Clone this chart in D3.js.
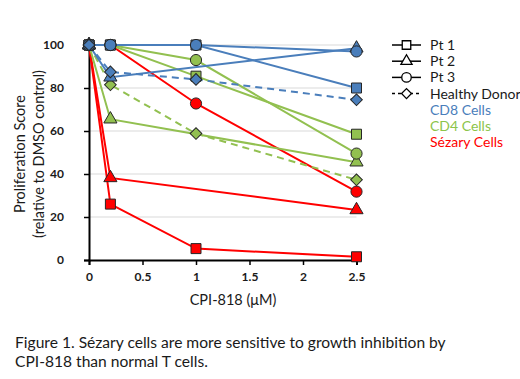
<!DOCTYPE html>
<html>
<head>
<meta charset="utf-8">
<script src="https://cdn.jsdelivr.net/npm/d3@7"></script>
<style>
  body { margin: 0; background: #fff; }
  svg { display: block; font-family: Lato, "Open Sans", sans-serif; }
</style>
</head>
<body>
<div id="chart"></div>
<script>
// doses in uM
const doses = [0, 0.2, 1, 2.5];

// CD8 cells
const cd8Pt1 = [100, 100, 100, 80];
const cd8Pt2 = [100, 85, null, 98.5];
const cd8Pt3 = [100, 100, 100, 97];
const cd8HD = [100, 87.5, 84, 74.5];

// CD4 cells
const cd4Pt1 = [100, 100, 85.5, 58.5];
const cd4Pt2 = [100, 65.5, null, 45.5];
const cd4Pt3 = [100, 100, 93, 49.5];
const cd4HD = [100, 81.5, 58.8, 37.3];

// Sezary cells
const sezPt1 = [100, 26, 5.3, 1.5];
const sezPt2 = [100, 38.2, null, 23.3];
const sezPt3 = [100, 100, 72.8, 31.8];

const yTicks = [0, 20, 40, 60, 80, 100];
const xTicks = [0, 0.5, 1, 1.5, 2, 2.5];

const patients = ["Pt 1", "Pt 2", "Pt 3", "Healthy Donor"];
const cellTypes = ["CD8 Cells", "CD4 Cells", "Sézary Cells"];

const colors = { "CD8 Cells": "#4a7ebb", "CD4 Cells": "#92c050", "Sézary Cells": "#ff0000" };
const shapes = { "Pt 1": "square", "Pt 2": "triangle", "Pt 3": "circle", "Healthy Donor": "diamond" };

// draw order: red underneath, blue on top
const series = [
    { cell: "Sézary Cells", pt: "Pt 1", values: sezPt1 },
    { cell: "Sézary Cells", pt: "Pt 2", values: sezPt2 },
    { cell: "Sézary Cells", pt: "Pt 3", values: sezPt3 },
    { cell: "CD4 Cells", pt: "Pt 1", values: cd4Pt1 },
    { cell: "CD4 Cells", pt: "Pt 2", values: cd4Pt2 },
    { cell: "CD4 Cells", pt: "Pt 3", values: cd4Pt3 },
    { cell: "CD4 Cells", pt: "Healthy Donor", values: cd4HD },
    { cell: "CD8 Cells", pt: "Pt 1", values: cd8Pt1 },
    { cell: "CD8 Cells", pt: "Pt 2", values: cd8Pt2 },
    { cell: "CD8 Cells", pt: "Pt 3", values: cd8Pt3 },
    { cell: "CD8 Cells", pt: "Healthy Donor", values: cd8HD }
];

const width = 520, height = 379;
const svg = d3.select("#chart").append("svg")
    .attr("width", width)
    .attr("height", height);

const x = d3.scaleLinear().domain([0, 2.5]).range([89, 356.5]);
const y = d3.scaleLinear().domain([0, 100]).range([260, 45]);

// gridlines
svg.append("g")
    .selectAll("line")
    .data(yTicks.filter(d => d > 0))
    .join("line")
    .attr("x1", x(0)).attr("x2", x(2.5))
    .attr("y1", d => y(d)).attr("y2", d => y(d))
    .attr("stroke", "#d9d9d9")
    .attr("stroke-width", 1);

// axes
const yAxis = svg.append("g")
    .attr("transform", `translate(${x(0)},0)`)
    .call(d3.axisLeft(y).tickValues(yTicks).tickSize(5).tickPadding(20));
const xAxis = svg.append("g")
    .attr("transform", `translate(0,${y(0)})`)
    .call(d3.axisBottom(x).tickValues(xTicks).tickSize(5).tickPadding(7)
        .tickFormat(d => d3.format("")(d)));

[xAxis, yAxis].forEach(a => {
    a.select(".domain").attr("stroke", "#000").attr("stroke-width", 2);
    a.selectAll(".tick line").attr("stroke", "#000").attr("stroke-width", 1.5);
    a.selectAll(".tick text")
        .attr("fill", "#1a1a1a")
        .attr("font-size", 12)
        .attr("font-weight", "bold")
        .attr("font-family", "Lato, sans-serif");
});

// axis titles
svg.append("text")
    .attr("x", 233).attr("y", 305)
    .attr("text-anchor", "middle")
    .attr("font-size", 14.5)
    .attr("fill", "#1a1a1a")
    .text("CPI-818 (\u03bcM)");

const yTitle = svg.append("text")
    .attr("transform", "translate(0,154) rotate(-90)")
    .attr("text-anchor", "middle")
    .attr("font-size", 14.5)
    .attr("fill", "#1a1a1a");
yTitle.append("tspan").attr("x", 0).attr("y", 25).text("Proliferation Score");
yTitle.append("tspan").attr("x", 0).attr("y", 44).text("(relative to DMSO control)");

// marker paths
function markerPath(shape, scale) {
    const s = scale || 1;
    if (shape === "square") return d3.symbol(d3.symbolSquare, 100 * s * s)();
    if (shape === "triangle") return d3.symbol(d3.symbolTriangle, 75 * s * s)();
    if (shape === "circle") return d3.symbol(d3.symbolCircle, 98 * s * s)();
    return d3.symbol(d3.symbolSquare, 68 * s * s)();
}
function markerRotate(shape) {
    return shape === "diamond" ? " rotate(45)" : "";
}

const line = d3.line()
    .defined(d => d.v !== null)
    .x(d => x(d.dose))
    .y(d => y(d.v));

series.forEach(s => {
    const pts = s.values.map((v, i) => ({ dose: doses[i], v: v }));
    const valid = pts.filter(p => p.v !== null);
    svg.append("path")
        .datum(valid)
        .attr("d", line)
        .attr("fill", "none")
        .attr("stroke", colors[s.cell])
        .attr("stroke-width", 2)
        .attr("stroke-dasharray", s.pt === "Healthy Donor" ? "7,5" : null);
});

series.forEach(s => {
    const pts = s.values.map((v, i) => ({ dose: doses[i], v: v })).filter(p => p.v !== null);
    const shape = shapes[s.pt];
    svg.append("g")
        .selectAll("path")
        .data(pts)
        .join("path")
        .attr("d", markerPath(shape))
        .attr("transform", d => `translate(${x(d.dose)},${y(d.v)})${markerRotate(shape)}`)
        .attr("fill", colors[s.cell])
        .attr("stroke", "#262626")
        .attr("stroke-width", 1);
});

// legend
const legend = svg.append("g");
const rowY = d3.scaleLinear().domain([0, 1]).range([45, 61.2]);
patients.forEach((p, i) => {
    const g = legend.append("g").attr("transform", `translate(0,${rowY(i)})`);
    g.append("line")
        .attr("x1", 392).attr("x2", 421)
        .attr("stroke", "#000")
        .attr("stroke-width", 1.5)
        .attr("stroke-dasharray", p === "Healthy Donor" ? "3,3" : null);
    g.append("path")
        .attr("d", markerPath(shapes[p], 0.85))
        .attr("transform", `translate(406.5,0)${markerRotate(shapes[p])}`)
        .attr("fill", "#fff")
        .attr("stroke", "#000")
        .attr("stroke-width", 1.3);
    g.append("text")
        .attr("x", 430).attr("dy", "0.35em")
        .attr("font-size", 14)
        .attr("fill", "#1a1a1a")
        .text(p);
});
cellTypes.forEach((c, i) => {
    legend.append("text")
        .attr("x", 430).attr("y", rowY(i + 4)).attr("dy", "0.35em")
        .attr("font-size", 14)
        .attr("fill", colors[c] === "#92c050" ? "#8cc44a" : colors[c])
        .text(c);
});

// caption
const caption = svg.append("text")
    .attr("font-size", 15.6)
    .attr("fill", "#1a1a1a");
caption.append("tspan").attr("x", 15).attr("y", 348)
    .text("Figure 1. Sézary cells are more sensitive to growth inhibition by");
caption.append("tspan").attr("x", 15).attr("y", 367)
    .text("CPI-818 than normal T cells.");
</script>
</body>
</html>
